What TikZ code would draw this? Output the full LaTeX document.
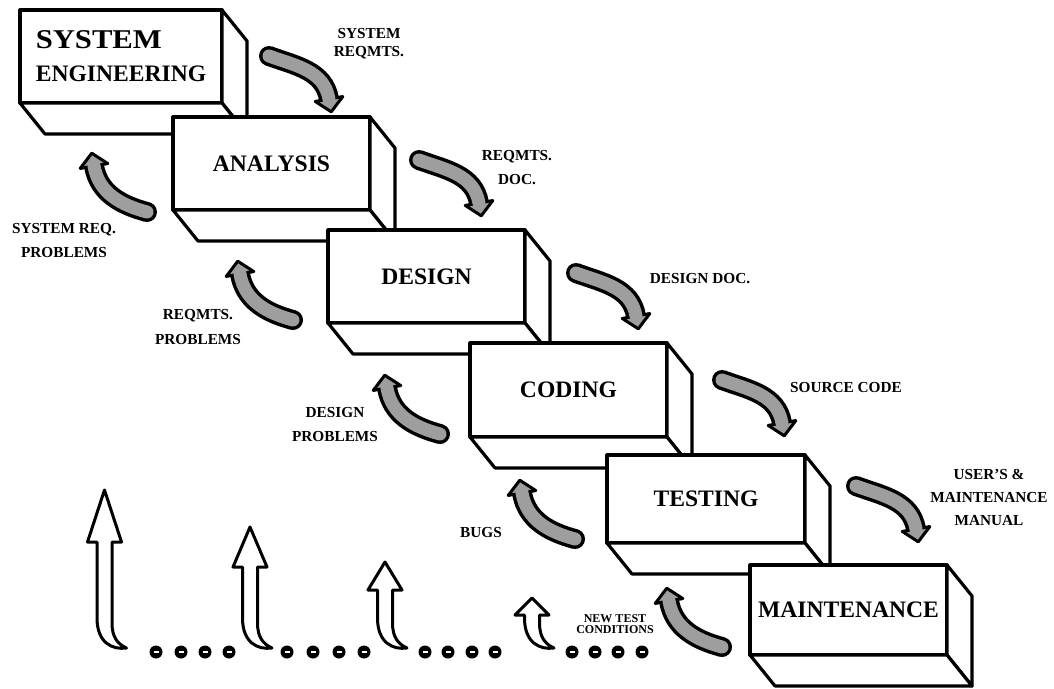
\documentclass[tikz,border=0pt]{standalone}
\usepackage{fontspec}
\setmainfont{Liberation Serif}
\usepackage{graphicx}
\usepackage{tikz}
\usetikzlibrary{calc}
\definecolor{flowgray}{gray}{0.62}
\newcommand{\boxfaces}[1]{%
  \draw[face] (#1.north east) -- ++(25,-31) -- ($(#1.south east)+(25,-31)$) -- (#1.south east) -- cycle;
  \draw[face] (#1.south west) -- (#1.south east) -- ($(#1.south east)+(25,-31)$) -- ($(#1.south west)+(25,-31)$) -- cycle;}
\newcommand{\flowarrow}[4]{%
  \fill (#1) circle[radius=10];
  \draw[line width=20pt] (#1) to[out=#2,in=#3] (#4);
  \draw[line width=3pt, fill=flowgray, line join=round]
    ($(#4)+({#3+90}:14)$) -- ($(#4)+({#3+180}:13)$) -- ($(#4)+({#3-90}:14)$) -- cycle;
  \draw[flowgray, line width=13pt, line cap=round] (#1) to[out=#2,in=#3] (#4);}
\newcommand{\risearrow}[3]{%
  \draw[line width=3pt, fill=white, line join=round]
    (#1,-#2) -- (#1+17,-#3) -- (#1+7.5,-#3) -- (#1+7.5,-623)
    .. controls (#1+7.5,-637) and (#1+13,-644) .. (#1+22,-648)
    .. controls (#1+8,-650) and (#1-7.5,-643) .. (#1-7.5,-618)
    -- (#1-7.5,-#3) -- (#1-17,-#3) -- cycle;}

\begin{document}
\begin{tikzpicture}[x=1pt,y=1pt,
  stage/.style={draw, fill=white, line width=3.2pt, line join=round, outer sep=0pt, inner sep=0pt,
    minimum width=197pt, minimum height=93pt, align=center, font=\fontsize{23.6}{33}\selectfont\bfseries},
  face/.style={draw, fill=white, line width=3.2pt, line join=round},
  note/.style={align=center, inner sep=0pt, font=\fontsize{15.3}{24}\selectfont\bfseries}]
\useasboundingbox (0,0) rectangle (1054,-688);

% the stages
\node[stage, minimum width=202pt, align=left] (syseng) at (121,-56.5) {\scalebox{1.3}[1.15]{SYSTEM}\\ENGINEERING};
\boxfaces{syseng}
\node[stage] (analysis) at (271.5,-163.5) {ANALYSIS};
\boxfaces{analysis}
\node[stage] (design) at (426.5,-276.5) {DESIGN};
\boxfaces{design}
\node[stage, minimum height=94pt] (coding) at (568.5,-390) {CODING};
\boxfaces{coding}
\node[stage, minimum width=198pt, minimum height=88pt] (testing) at (706,-499) {TESTING};
\boxfaces{testing}
\node[stage, minimum height=90pt] (maint) at (848.5,-610) {MAINTENANCE};
\boxfaces{maint}

% products passed down
\coordinate (sysreq-t) at (269,-56);  \coordinate (sysreq-h) at (329,-99);
\coordinate (reqdoc-t) at (419,-160); \coordinate (reqdoc-h) at (479,-203);
\coordinate (desdoc-t) at (576,-273); \coordinate (desdoc-h) at (636,-316);
\coordinate (source-t) at (722,-380); \coordinate (source-h) at (782,-423);
\coordinate (manual-t) at (856,-486); \coordinate (manual-h) at (916,-529);
\flowarrow{sysreq-t}{-20}{100}{sysreq-h}
\flowarrow{reqdoc-t}{-20}{100}{reqdoc-h}
\flowarrow{desdoc-t}{-20}{100}{desdoc-h}
\flowarrow{source-t}{-20}{100}{source-h}
\flowarrow{manual-t}{-20}{100}{manual-h}

% problems passed back
\coordinate (sysprob-t) at (147,-212); \coordinate (sysprob-h) at (94,-166);
\coordinate (reqprob-t) at (293,-320); \coordinate (reqprob-h) at (240,-274);
\coordinate (desprob-t) at (440,-434); \coordinate (desprob-h) at (387,-388);
\coordinate (bugs-t) at (575,-539);    \coordinate (bugs-h) at (522,-493);
\coordinate (newtest-t) at (722,-647); \coordinate (newtest-h) at (669,-601);
\flowarrow{sysprob-t}{165}{-80}{sysprob-h}
\flowarrow{reqprob-t}{165}{-80}{reqprob-h}
\flowarrow{desprob-t}{165}{-80}{desprob-h}
\flowarrow{bugs-t}{165}{-80}{bugs-h}
\flowarrow{newtest-t}{165}{-80}{newtest-h}

\node[note, font=\fontsize{15.3}{18}\selectfont\bfseries] (sysreqlbl) at (369,-44) {SYSTEM\\REQMTS.};
\node[note] (reqdoclbl) at (517,-168) {REQMTS.\\DOC.};
\node[note] (desdoclbl) at (700,-279) {DESIGN DOC.};
\node[note] (sourcelbl) at (846,-388) {SOURCE CODE};
\node[note, font=\fontsize{15.3}{23}\selectfont\bfseries] (manuallbl) at (989,-497) {USER'S \&\\MAINTENANCE\\MANUAL};
\node[note] (sysproblbl) at (64,-241) {SYSTEM REQ.\\PROBLEMS};
\node[note, font=\fontsize{15.3}{25}\selectfont\bfseries] (reqproblbl) at (198,-327) {REQMTS.\\PROBLEMS};
\node[note] (desproblbl) at (335,-425) {DESIGN\\PROBLEMS};
\node[note] (bugslbl) at (481,-533) {BUGS};
\node[note, font=\fontsize{12}{11}\selectfont\bfseries] (newtestlbl) at (615,-624) {NEW TEST\\CONDITIONS};

% iterations along the bottom
\risearrow{104.5}{490}{542}
\risearrow{250}{527}{567}
\risearrow{385}{562}{590}
\risearrow{532}{598}{615}
\foreach \x in {156,181,205,229,287,313,339,364,425,448,472,495,572,595,618,642} {
  \fill (\x,-652) circle[radius=6.5];
  \draw[white, line width=1.8pt] (\x-2.5,-652) -- (\x+2.5,-652);
}
\end{tikzpicture}
\end{document}
